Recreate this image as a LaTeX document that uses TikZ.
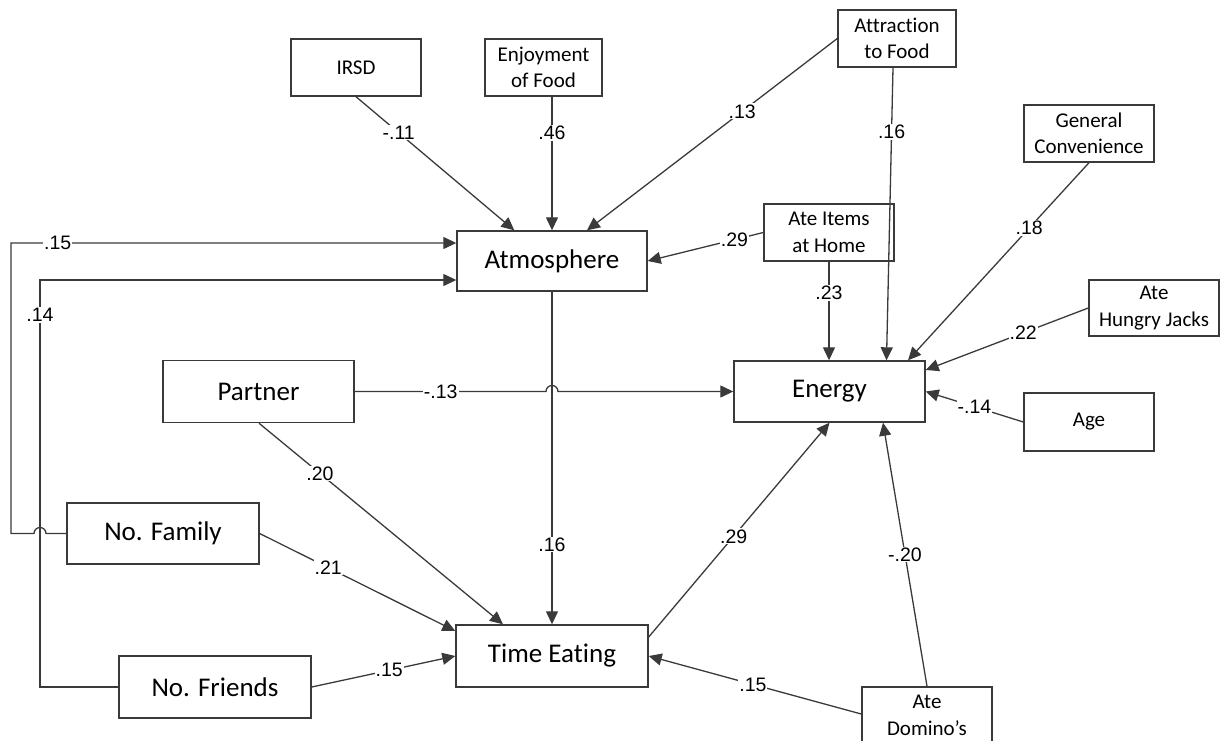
\documentclass[tikz,border=0pt]{standalone}
\usepackage{fontspec}
\setmainfont{Carlito}[Ligatures=NoCommon]
\newfontfamily\lblfont{Liberation Sans}
\usetikzlibrary{arrows.meta,calc}
\definecolor{linegray}{HTML}{3A3A3A}

\begin{document}
\begin{tikzpicture}[x=1pt,y=-1pt,
  line/.style={draw=linegray, line width=1.3pt},
  arr/.style={line, -{Triangle[length=13pt,width=12pt]}},
  bigbox/.style={draw=linegray, line width=1.4pt, minimum width=191pt,
    minimum height=61pt, inner sep=0pt, font=\fontsize{27}{32}\selectfont},
  smallbox/.style={draw=linegray, line width=1.4pt, minimum width=130pt,
    minimum height=57pt, inner sep=0pt, align=center,
    font=\fontsize{21}{26.5}\selectfont},
  wt/.style={fill=white, inner sep=1pt, font=\lblfont\fontsize{19.5}{19.5}\selectfont},
]
\useasboundingbox (0,0) rectangle (1229,740);

% exogenous predictors
\node[smallbox] (irsd) at (356,67.5) {IRSD};
\node[smallbox, minimum width=117pt] (enjoy) at (543.5,67.5) {Enjoyment\\of Food};
\node[smallbox, minimum width=118pt] (attr) at (897,38.5) {Attraction\\to Food};
\node[smallbox] (conv) at (1089,133.5) {General\\Convenience};
\node[smallbox] (items) at (829,232.5) {Ate Items\\at Home};
\node[smallbox, minimum height=56pt] (hungry) at (1154,308) {Ate\\Hungry Jacks};
\node[smallbox, minimum height=58pt] (age) at (1089,422) {Age};
\node[smallbox] (domino) at (927,715.5) {Ate\\Domino’s};

% main constructs
\node[bigbox, minimum width=190pt, minimum height=60pt] (atmo) at (552,261) {Atmosphere};
\node[bigbox] (energy) at (829.5,391.5) {Energy};
\node[bigbox, minimum height=62pt] (partner) at (258.5,391.5) {Partner};
\node[bigbox, minimum width=192pt, minimum height=62pt] (time) at (552,656) {Time Eating};
\node[bigbox, minimum width=192pt] (nofam) at (163,533.5) {No. Family};
\node[bigbox, minimum width=192pt, minimum height=62pt] (nofr) at (215,687) {No. Friends};

% routing helpers for the left-hand paths
\coordinate (lfar) at (11,0);
\coordinate (lnear) at (40,0);
\coordinate (atin1) at ($(atmo.west)+(0,-18)$);
\coordinate (atin2) at ($(atmo.west)+(0,19)$);

% paths into Atmosphere
\draw[arr] (irsd.south) -- node[wt,pos=0.27]{-.11} ($(atmo.north west)+(58,0)$);
\draw[arr] (enjoy.south -| atmo.north) -- node[wt,pos=0.27]{.46} (atmo.north);
\draw[arr] (attr.west) -- node[wt,pos=0.38]{.13} ($(atmo.north)+(35,0)$);
\draw[arr] (items.west) -- node[wt,pos=0.25]{.29} (atmo.east);
\draw[arr] (nofam.west) -- ($(lnear |- nofam.west)+(6,0)$)
  arc[start angle=0,end angle=180,radius=6pt] -- (lfar |- nofam.west)
  -- (lfar |- atin1) -- node[wt,pos=0.105]{.15} (atin1);
\draw[arr] (nofr.west) -- (lnear |- nofr.west)
  -- node[wt,pos=0.914]{.14} (lnear |- atin2) -- (atin2);

% paths into Energy
\draw[arr] ($(attr.south)+(-4,0)$) -- node[wt,pos=0.22]{.16} ($(energy.north)+(57,0)$);
\draw[arr] (conv.south) -- node[wt,pos=0.33]{.18} ($(energy.north)+(78.5,0)$);
\draw[arr] (items.south) -- node[wt,pos=0.32]{.23} (items.south |- energy.north);
\draw[arr] (hungry.west) -- node[wt,pos=0.4]{.22} ($(energy.east)+(0,-21.5)$);
\draw[arr] (age.west) -- node[wt,pos=0.5]{-.14} (energy.east);
\draw[arr] (partner.east) -- node[wt,pos=0.45]{-.13} ($(atmo.south |- partner.east)+(-6,0)$)
  arc[start angle=180,end angle=0,radius=6pt] -- (energy.west);
\draw[arr] (domino.north) -- node[wt,pos=0.5]{-.20} ($(energy.south)+(53.5,0)$);
\draw[arr] ($(time.east)+(0,-19)$) -- node[wt,pos=0.47]{.29} (energy.south);

% paths into Time Eating
\draw[arr] (atmo.south) -- node[wt,pos=0.76]{.16} (time.north);
\draw[arr] ($(partner.south)+(0.5,0)$) -- node[wt,pos=0.25]{.20} ($(time.north)+(-49,0)$);
\draw[arr] (nofam.east) -- node[wt,pos=0.35]{.21} ($(time.west)+(0,-25)$);
\draw[arr] (nofr.east) -- node[wt,pos=0.54]{.15} (time.west);
\draw[arr] ($(domino.west)+(0,-1.5)$) -- node[wt,pos=0.51]{.15} (time.east);
\end{tikzpicture}
\end{document}
